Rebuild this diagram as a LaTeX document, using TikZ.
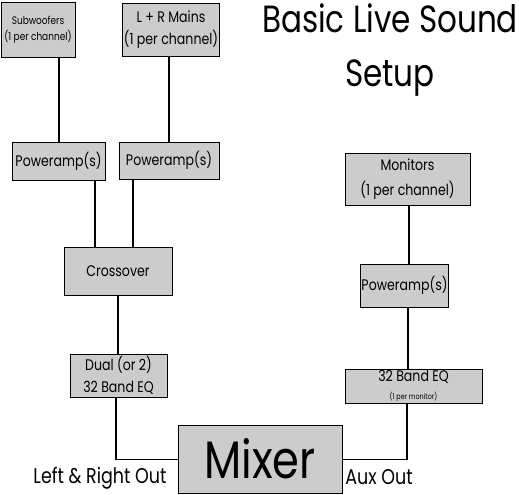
\documentclass[tikz,border=0pt]{standalone}
\usepackage{fontspec}
\setmainfont{Poppins}[FakeStretch=0.82]
\usetikzlibrary{calc}

\tikzstyle{unit} = [rectangle, draw=black, fill=black!20, align=center, inner sep=1pt, line width=0.7pt, font=\fontsize{11.5}{16.5}\selectfont]
\tikzstyle{wire} = [line width=0.8pt]
\tikzstyle{tag} = [font=\fontsize{16}{19}\selectfont]
\tikzset{boxsize/.style 2 args={minimum width=#1*0.75pt, minimum height=#2*0.75pt}}

\begin{document}
\begin{tikzpicture}[x=0.75pt, y=-0.75pt]
\useasboundingbox (0,0) rectangle (519,495);
\node (title) [align=center, font=\fontsize{28.4}{41}\selectfont] at (390,50) {Basic Live Sound\\Setup};

\node (sub) [unit, boxsize={74}{55}, font=\fontsize{8.2}{12}\selectfont] at (38,29.5) {Subwoofers\\(1 per channel)};
\node (mains) [unit, boxsize={96}{53}] at (171,29.5) {L + R Mains\\(1 per channel)};
\node (amp1) [unit, boxsize={93}{38}] at (58.5,161) {Poweramp(s)};
\node (amp2) [unit, boxsize={100}{37}] at (169,160.5) {Poweramp(s)};
\node (cross) [unit, boxsize={108}{48}] at (118,271) {Crossover};
\node (eq1) [unit, boxsize={97}{43}] at (118.5,375.5) {Dual (or 2)\\32 Band EQ};
\node (mixer) [unit, boxsize={164}{68}, text height=28pt, text depth=0pt, font=\fontsize{39.5}{40}\selectfont] at (260,459.5) {Mixer};
\node (mon) [unit, boxsize={125}{52}, font=\fontsize{11.5}{19}\selectfont] at (407.5,179) {Monitors\\(1 per channel)};
\node (amp3) [unit, boxsize={83}{43}] at (404.5,285.5) {Poweramp(s)};
\node (eq2) [unit, boxsize={137}{34}] at (413.5,386) {32 Band EQ\\[-3pt]{\fontsize{5.9}{7}\selectfont (1 per monitor)}};

\node (lrout) [tag] at (100,478) {Left \& Right Out};
\node (auxout) [tag] at (379,477) {Aux Out};

%\draw [wire] (sub) -- (amp1);
\draw [wire] ($(sub.south)+(21,0)$) coordinate (s1) -- (s1 |- amp1.north);
\draw [wire] (mains.south -| amp2.north) -- (amp2.north);
\draw [wire] ($(amp1.south)+(36.5,0)$) coordinate (a1) -- (a1 |- cross.north);
\draw [wire] ($(amp2.south)+(-36,0)$) coordinate (a2) -- (a2 |- cross.north);
\draw [wire] (cross.south) -- (cross.south |- eq1.north);
\draw [wire] ($(eq1.south)+(-2.5,0)$) |- (mixer.west);
\draw [wire] ($(mon.south)+(1.5,0)$) coordinate (m1) -- (m1 |- amp3.north);
\draw [wire] ($(amp3.south)+(3.5,0)$) coordinate (a3) -- (a3 |- eq2.north);
\draw [wire] ($(eq2.south)+(-6.5,0)$) |- (mixer.east);
\end{tikzpicture}
\end{document}
